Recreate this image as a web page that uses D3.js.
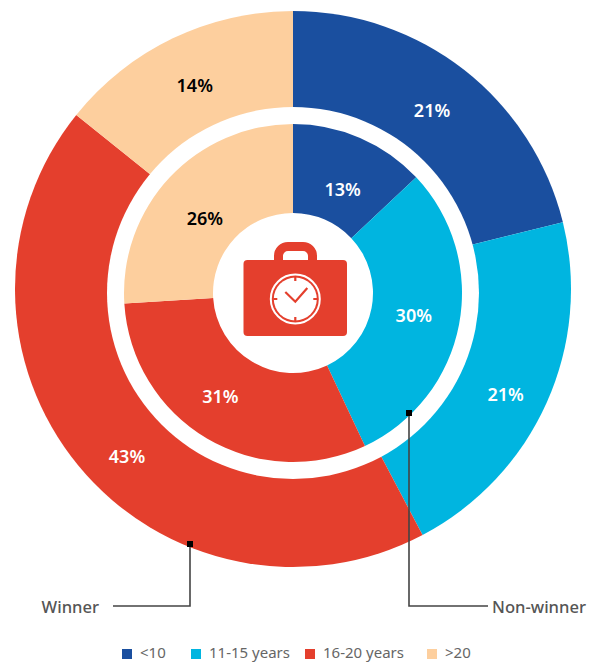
<!DOCTYPE html>
<html><head><meta charset="utf-8">
<script src="https://cdn.jsdelivr.net/npm/d3@7"></script>
<style>html,body{margin:0;background:#fff}svg{display:block}text{font-family:"Noto Sans",sans-serif}</style>
</head><body><svg id="c" width="596" height="662"></svg>
<script>
const categories=["<10","11-15 years","16-20 years",">20"];
const winnerValues=[21.1,21.1,43.4,14.2];
const nonWinnerValues=[13,30,31,26];
const colors=["#1a4f9f","#00b5e0","#e43f2d","#fdcf9e"];
const labelColors=["#fff","#fff","#fff","#000"];
const winnerNudge=[[-4,4],[1,11],[13,20],[2,6]];
const nonWinnerNudge=[[0,11],[-2,-1],[-9,-4],[3,11]];
const svg=d3.select("#c");
const pie=d3.pie().sort(null).value(d=>d);
const outer=svg.append("g").attr("transform","translate(293,289)");
const outerArc=d3.arc().innerRadius(0).outerRadius(278);
outer.selectAll("path").data(pie(winnerValues)).join("path").attr("d",outerArc).attr("fill",(d,i)=>colors[i]);
const inner=svg.append("g").attr("transform","translate(293,293)");
inner.append("circle").attr("r",186).attr("fill","#fff");
const innerArc=d3.arc().innerRadius(80).outerRadius(169);
inner.selectAll("path").data(pie(nonWinnerValues)).join("path").attr("d",innerArc).attr("fill",(d,i)=>colors[i]);
const lab=(g,vals,r,nudge)=>{const a=d3.arc().innerRadius(r).outerRadius(r);
 g.selectAll("text").data(pie(vals)).join("text").attr("transform",(d,i)=>{const c=a.centroid(d);return `translate(${c[0]+nudge[i][0]},${c[1]+nudge[i][1]})`;})
 .attr("text-anchor","middle").attr("dy","0.36em").attr("font-size",18).attr("font-weight",600)
 .attr("fill",(d,i)=>labelColors[i]).text(d=>Math.round(d.data)+"%");};
lab(outer,winnerValues,232,winnerNudge);
lab(inner,nonWinnerValues,125,nonWinnerNudge);
// icon
const ic=inner.append("g").attr("fill","#e43f2d");
ic.append("path").attr("d","M-19,-33V-37A14,14 0 0 1 -5,-51H10A14,14 0 0 1 24,-37V-33H15V-37A5,5 0 0 0 10,-42H-5A5,5 0 0 0 -10,-37V-33Z");
ic.append("rect").attr("x",-49.5).attr("y",-33).attr("width",103.5).attr("height",76).attr("rx",4);
const clock=ic.append("g").attr("transform","translate(2.3,6)");
clock.append("circle").attr("r",24.5).attr("fill","none").attr("stroke","#fff").attr("stroke-width",2);
clock.append("circle").attr("r",21.5).attr("fill","#fff");
clock.append("path").attr("fill","none").attr("stroke","#e43f2d").attr("stroke-width",2.2).attr("d","M-10,-7L0,2.7L12,-11M0,-22V-18M0,22V18M-22,0H-18M22,0H18");
// leaders
const leaders=[{p:[[190,544],[190,606],[113,606]],t:"Winner",x:99,anchor:"end"},{p:[[409,413],[409,606],[488,606]],t:"Non-winner",x:492,anchor:"start"}];
const line=d3.line();
leaders.forEach(l=>{
 svg.append("path").attr("d",line(l.p)).attr("fill","none").attr("stroke","#444").attr("stroke-width",1.6);
 svg.append("rect").attr("x",l.p[0][0]-3).attr("y",l.p[0][1]-3).attr("width",6).attr("height",6).attr("fill","#000");
 svg.append("text").attr("x",l.x).attr("y",613).attr("text-anchor",l.anchor).attr("font-size",16.6).attr("font-weight",500).attr("fill","#555").text(l.t);
});
// legend
const legX=[122,191,305,427];
const lg=svg.selectAll("g.l").data(categories).join("g").attr("class","l").attr("transform",(d,i)=>`translate(${legX[i]},649)`);
lg.append("rect").attr("width",10).attr("height",10).attr("fill",(d,i)=>colors[i]);
lg.append("text").attr("x",18).attr("y",8.5).attr("font-size",15).attr("fill","#666").text(d=>d);
</script></body></html>
